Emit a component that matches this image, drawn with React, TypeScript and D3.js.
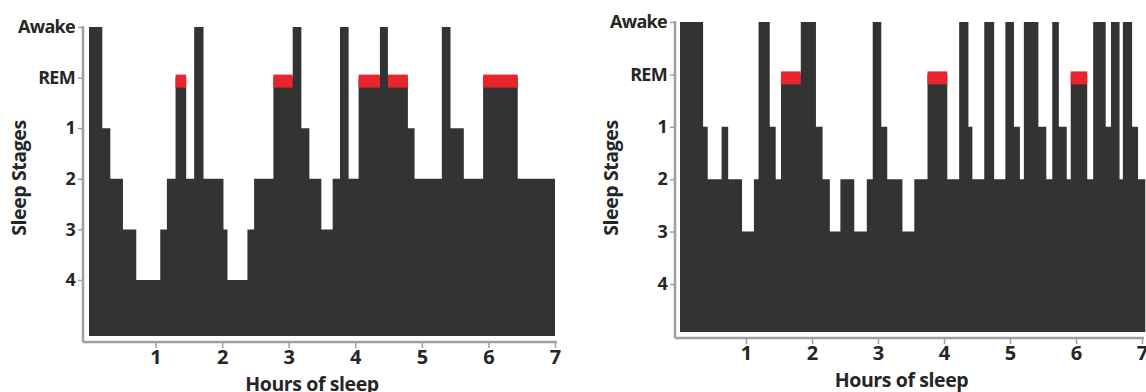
import * as d3 from 'd3';
import { useEffect, useRef } from 'react';

const STAGES = ['Awake', 'REM', '1', '2', '3', '4'];
const HOUR_TICKS = [1, 2, 3, 4, 5, 6, 7];

// night one (left panel): hour each stage starts at
const nightOneStart = [
    0, 0.2, 0.32, 0.51, 0.71, 1.07, 1.17, 1.3, 1.46, 1.58, 1.72, 2.02, 2.08, 2.38, 2.48, 2.77, 3.06,
    3.19, 3.31, 3.49, 3.66, 3.77, 3.9, 4.05, 4.37, 4.49, 4.79, 4.89, 5.3, 5.43, 5.63, 5.92, 6.44,
];
const nightOneStage = [
    'Awake', '1', '2', '3', '4', '3', '2', 'REM', '2', 'Awake', '2', '3', '4', '3', '2', 'REM', 'Awake',
    '1', '2', '3', '2', 'Awake', '2', 'REM', 'Awake', 'REM', '1', '2', 'Awake', '1', '2', 'REM', '2',
];
const nightOneEnd = 7;

// night two (right panel)
const nightTwoStart = [
    0, 0.35, 0.42, 0.63, 0.73, 0.94, 1.12, 1.19, 1.36, 1.45, 1.53, 1.83, 2.06, 2.16, 2.27, 2.43, 2.64,
    2.83, 2.92, 3.05, 3.14, 3.37, 3.55, 3.75, 4.05, 4.23, 4.37, 4.43, 4.61, 4.76, 4.93, 5.06, 5.15, 5.21,
    5.43, 5.55, 5.64, 5.74, 5.86, 5.92, 6.17, 6.26, 6.45, 6.53, 6.66, 6.71, 6.85, 6.94,
];
const nightTwoStage = [
    'Awake', '1', '2', '1', '2', '3', '2', 'Awake', '1', '2', 'REM', 'Awake', '1', '2', '3', '2', '3',
    '2', 'Awake', '1', '2', '3', '2', 'REM', '2', 'Awake', '1', '2', 'Awake', '2', 'Awake', '1', '2', 'Awake',
    '1', '2', 'Awake', '1', '2', 'REM', '2', 'Awake', '1', 'Awake', '2', 'Awake', '1', '2',
];
const nightTwoEnd = 7.05;

const FILL = '#333333';
const REM_RED = '#e8252d';
const AXIS_GRAY = '#a0a0a0';
const INK = '#262626';
const FONT = '"Open Sans", "DejaVu Sans", sans-serif';

type Panel = {
    starts: number[];
    stages: string[];
    end: number;
    axisX: number;
    x0: number;
    x7: number;
    yTop: number;
    yBottom: number;
    floor: number;
    axisY: number;
};

const panels: Panel[] = [
    { starts: nightOneStart, stages: nightOneStage, end: nightOneEnd, axisX: 83, x0: 89, x7: 555, yTop: 27, yBottom: 280, floor: 336, axisY: 342 },
    { starts: nightTwoStart, stages: nightTwoStage, end: nightTwoEnd, axisX: 675, x0: 680, x7: 1142, yTop: 22, yBottom: 284, floor: 332, axisY: 338 },
];

const drawPanel = (root: d3.Selection<SVGSVGElement, unknown, null, undefined>, p: Panel) => {
    const g = root.append('g');
    const x = d3.scaleLinear().domain([0, 7]).range([p.x0, p.x7]);
    const y = d3.scalePoint<string>().domain(STAGES).range([p.yTop, p.yBottom]);

    const segs = p.starts.map((s, i) => ({
        s,
        e: i < p.starts.length - 1 ? p.starts[i + 1] : p.end,
        stage: p.stages[i],
    }));
    const pts = segs.map((d) => ({ t: d.s, stage: d.stage }));
    pts.push({ t: p.end, stage: p.stages[p.stages.length - 1] });

    const area = d3
        .area<{ t: number; stage: string }>()
        .x((d) => x(d.t))
        .y0(p.floor)
        .y1((d) => y(d.stage) as number)
        .curve(d3.curveStepAfter);

    g.append('path').datum(pts).attr('d', area).attr('fill', FILL);

    // red caps on REM periods
    g.selectAll('rect.rem')
        .data(segs.filter((d) => d.stage === 'REM'))
        .join('rect')
        .attr('class', 'rem')
        .attr('x', (d) => x(d.s))
        .attr('width', (d) => x(d.e) - x(d.s))
        .attr('y', (y('REM') as number) - 3)
        .attr('height', 13)
        .attr('fill', REM_RED);

    // y axis
    const yAxis = g
        .append('g')
        .attr('transform', `translate(${p.axisX},0)`)
        .call(d3.axisLeft(y).tickSize(5).tickSizeOuter(0).tickPadding(3));
    yAxis.select('.domain').remove();
    yAxis.selectAll('line').attr('stroke', AXIS_GRAY).attr('stroke-width', 1.5);
    yAxis
        .selectAll('text')
        .attr('fill', INK)
        .style('font-family', FONT)
        .style('font-weight', 700)
        .style('font-size', '18px')
        .style('letter-spacing', '-0.7px');

    g.append('line')
        .attr('x1', p.axisX)
        .attr('x2', p.axisX)
        .attr('y1', p.yTop - 1)
        .attr('y2', p.axisY)
        .attr('stroke', AXIS_GRAY)
        .attr('stroke-width', 2.5);

    // x axis
    const xAxis = g
        .append('g')
        .attr('transform', `translate(0,${p.axisY})`)
        .call(d3.axisBottom(x).tickValues(HOUR_TICKS).tickFormat(d3.format('d')).tickSize(6).tickSizeOuter(0).tickPadding(2));
    xAxis.select('.domain').remove();
    xAxis.selectAll('line').attr('stroke', AXIS_GRAY).attr('stroke-width', 1.5);
    xAxis
        .selectAll('text')
        .attr('fill', INK)
        .style('font-family', FONT)
        .style('font-weight', 700)
        .style('font-size', '20px');

    g.append('line')
        .attr('x1', p.axisX)
        .attr('x2', p.x7 + 2)
        .attr('y1', p.axisY)
        .attr('y2', p.axisY)
        .attr('stroke', AXIS_GRAY)
        .attr('stroke-width', 2.5);

    // titles
    g.append('text')
        .attr('transform', `translate(${p.axisX - 57},178) rotate(-90)`)
        .attr('text-anchor', 'middle')
        .attr('fill', INK)
        .style('font-family', FONT)
        .style('font-weight', 700)
        .style('font-size', '19.5px')
        .style('letter-spacing', '-0.4px')
        .text('Sleep Stages');

    g.append('text')
        .attr('x', (p.axisX + p.x7) / 2 - 7)
        .attr('y', p.axisY + 49)
        .attr('text-anchor', 'middle')
        .attr('fill', INK)
        .style('font-family', FONT)
        .style('font-weight', 700)
        .style('font-size', '19.5px')
        .style('letter-spacing', '-0.4px')
        .text('Hours of sleep');
};

const App = () => {
    const svgRef = useRef<SVGSVGElement>(null);

    useEffect(() => {
        const svg = d3.select(svgRef.current as SVGSVGElement);
        svg.selectAll('*').remove();
        panels.forEach((p) => drawPanel(svg, p));
    }, []);

    return (
        <svg
            ref={svgRef}
            width={1146}
            height={392}
            style={{ position: 'absolute', left: 0, top: 0, background: '#fff' }}
        />
    );
};

export default App;
